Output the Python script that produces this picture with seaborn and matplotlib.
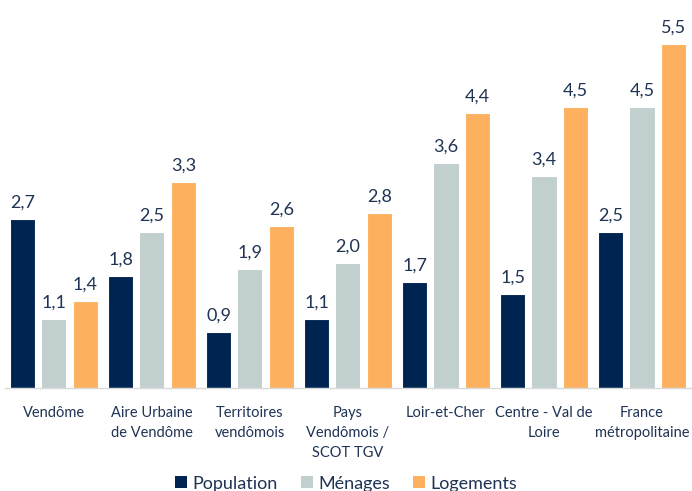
import matplotlib
matplotlib.use("Agg")
import matplotlib.pyplot as plt
import seaborn as sns
import pandas as pd
from matplotlib.patches import Patch

categories = ["Vendôme", "Aire Urbaine\nde Vendôme", "Territoires\nvendômois",
              "Pays\nVendômois /\nSCOT TGV", "Loir-et-Cher", "Centre - Val de\nLoire",
              "France\nmétropolitaine"]
series = ["Population", "Ménages", "Logements"]
population = [2.7, 1.8, 0.9, 1.1, 1.7, 1.5, 2.5]
menages = [1.1, 2.5, 1.9, 2.0, 3.6, 3.4, 4.5]
logements = [1.4, 3.3, 2.6, 2.8, 4.4, 4.5, 5.5]
colors = ["#002452", "#C1CFCF", "#FDB05E"]
text_color = "#1F3354"

rows = []
for s, vals in zip(series, [population, menages, logements]):
    for c, v in zip(categories, vals):
        rows.append({"cat": c, "series": s, "value": v})
df = pd.DataFrame(rows)

sns.set_theme(style="white")
plt.rcParams["font.family"] = ["Lato", "DejaVu Sans"]

fig = plt.figure(figsize=(6.92, 4.91), dpi=100)
ax = fig.add_axes([0.007, 0.2098, 0.9916, 0.77])
sns.barplot(data=df, x="cat", y="value", hue="series", order=categories,
            hue_order=series, palette=colors, saturation=1, width=0.96, gap=0.2,
            edgecolor="white", linewidth=0.8, ax=ax, legend=False)

for cont in ax.containers:
    labels = [f"{b.get_height():.1f}".replace(".", ",") for b in cont]
    ax.bar_label(cont, labels=labels, padding=6, fontsize=13, color=text_color)

ax.set_xlim(-0.5, 6.5)
ax.set_ylim(0, 6.05)
ax.set_xlabel("")
ax.set_ylabel("")
ax.set_yticks([])
for sp in ["top", "right", "left"]:
    ax.spines[sp].set_visible(False)
ax.spines["bottom"].set_color("#D9D9D9")
ax.spines["bottom"].set_linewidth(1)
ax.tick_params(axis="x", length=0, pad=13, labelsize=10.5, labelcolor=text_color)
for t in ax.get_xticklabels():
    t.set_linespacing(1.55)

handles = [Patch(facecolor=c, edgecolor="none") for c in colors]
fig.legend(handles, series, loc="center", bbox_to_anchor=(0.5, 0.015),
           ncol=3, frameon=False, fontsize=13, handlelength=0.65, handleheight=0.65,
           handletextpad=0.3, columnspacing=1.3, labelcolor=text_color)

fig.savefig("out.png", dpi=100)
